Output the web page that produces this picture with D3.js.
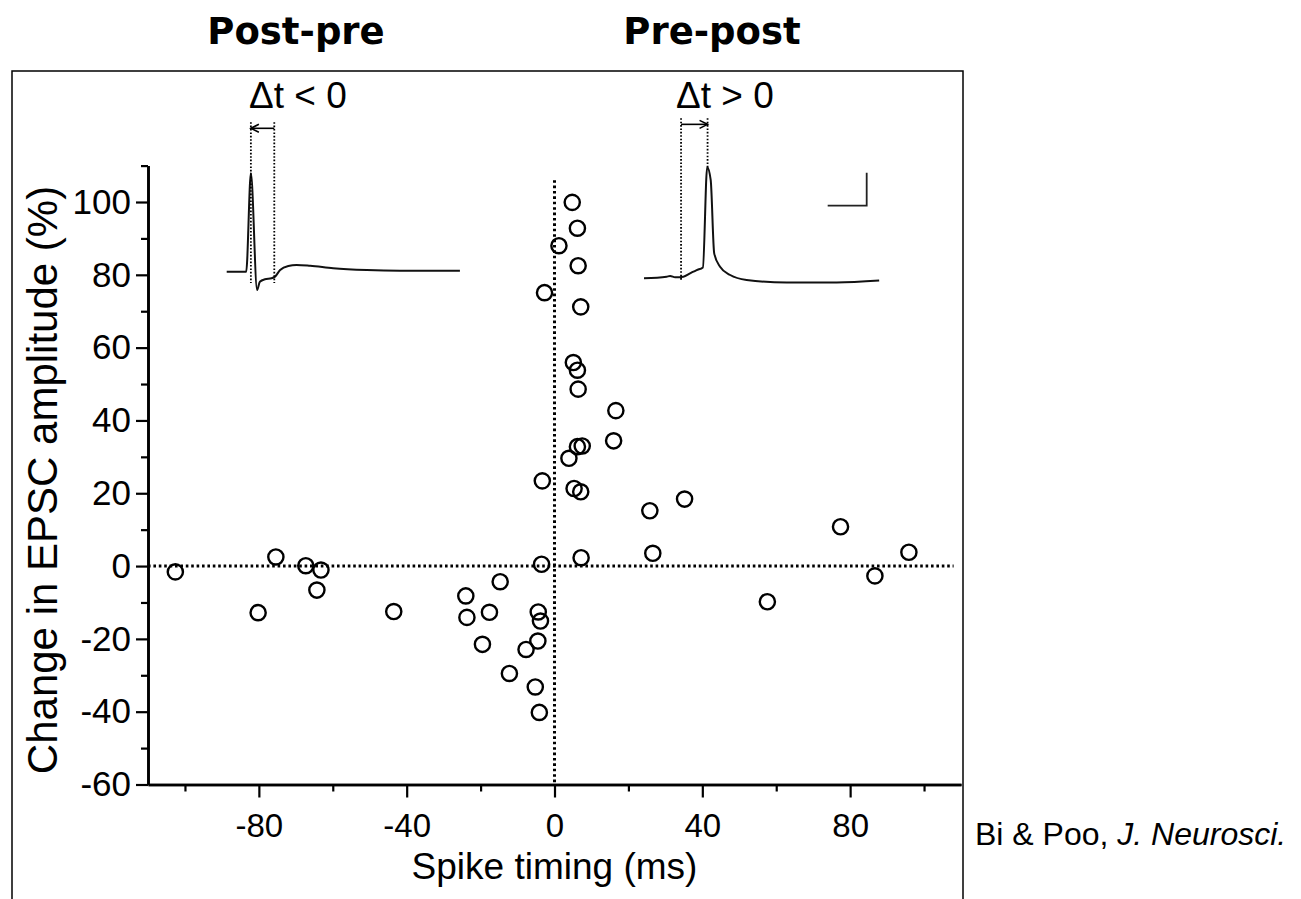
<!DOCTYPE html>
<html>
<head>
<meta charset="utf-8">
<script src="https://cdn.jsdelivr.net/npm/d3@7"></script>
<style>
  body { margin: 0; background: #fff; }
  svg { display: block; }
  text { font-family: "Liberation Sans", Arial, Helvetica, sans-serif; fill: #000; }
</style>
</head>
<body>
<svg id="chart" width="1301" height="899"></svg>
<script>
// scatter: spike timing (ms) vs change in EPSC amplitude (%)
const spikeTiming = [
    4.8, 6.2, 1.2, 6.4, -2.7, 7.1, 5.1, 6.2, 6.4, 6.2, 7.5, 3.9, -3.3, 5.3, 7.1, 7.2,
    16.6, 16.0, 25.8, 35.2, 26.6, 77.4, 95.9, 86.7, 57.6,
    -3.5, -14.7, -24.0, -23.7, -17.6, -4.4, -3.8, -19.5, -4.5, -7.7, -12.2, -5.2, -4.1,
    -102.6, -75.4, -67.3, -63.2, -64.3, -80.2, -43.5
];
const epscChange = [
    99.9, 92.8, 88.0, 82.5, 75.1, 71.2, 55.9, 53.8, 48.6, 32.8, 33.0, 29.6, 23.4, 21.3, 20.4, 2.3,
    42.7, 34.4, 15.2, 18.4, 3.5, 10.8, 3.8, -2.7, -9.8,
    0.5, -4.3, -8.2, -14.1, -12.7, -12.6, -15.1, -21.5, -20.6, -22.9, -29.5, -33.2, -40.2,
    -1.6, 2.5, 0.1, -1.1, -6.6, -12.8, -12.5
];

const xMajorTicks = [-80, -40, 0, 40, 80];
const xMinorTicks = [-100, -60, -20, 20, 60, 100];
const yMajorTicks = [-60, -40, -20, 0, 20, 40, 60, 80, 100];
const yMinorTicks = [-50, -30, -10, 10, 30, 50, 70, 90, 110];

// inset traces: time (ms) / voltage (mV) relative to trace start and baseline
const postPreT = [0, 5.0, 6.2, 7.8, 8.5, 9.8, 11.5, 12.4, 13.7, 15.8, 17.9, 21.4, 27.3, 35.9, 44.4, 59.8];
const postPreV = [0, 0, 59.6, -11.1, -6.1, -4.6, -4.0, -3.0, 1.0, 3.5, 4.1, 3.6, 2.1, 1.0, 0.6, 0.6];
const prePostT = [0, 5.8, 6.7, 8.0, 10.1, 11.8, 13.5, 15.1, 16.2, 17.1, 18.0, 19.5, 22.1, 26.3, 36.6, 49.4, 60.3];
const prePostV = [0, 1.0, 1.4, 0.6, 1.0, 3.0, 5.0, 6.6, 67.3, 59.6, 15.1, 7.0, 2.0, -1.0, -2.6, -2.6, -1.4];

const svg = d3.select('#chart');

// frame and headings
svg.append('rect')
    .attr('x', 12).attr('y', 71).attr('width', 951).attr('height', 900)
    .attr('fill', 'none').attr('stroke', '#000').attr('stroke-width', 1.5);

svg.selectAll('.head')
    .data([['Post-pre', 296], ['Pre-post', 712]])
    .join('text')
    .attr('class', 'head')
    .attr('x', d => d[1]).attr('y', 44)
    .attr('text-anchor', 'middle')
    .attr('font-size', 37)
    .attr('font-weight', 'bold')
    .style('font-family', '"DejaVu Sans", sans-serif')
    .text(d => d[0]);

const x = d3.scaleLinear().domain([-110, 110]).range([148, 961]);
const y = d3.scaleLinear().domain([-60, 110]).range([784.5, 165.6]);
const fmt = d => String(d);   // plain hyphen, as in the original figure

const g = svg.append('g');

// axes: minor ticks first, then labelled major ticks
g.append('g').attr('transform', `translate(0,${y(-60)})`)
    .call(d3.axisBottom(x).tickValues(xMinorTicks).tickSize(7).tickSizeOuter(0).tickFormat(''));
g.append('g').attr('class', 'xax').attr('transform', `translate(0,${y(-60)})`)
    .call(d3.axisBottom(x).tickValues(xMajorTicks).tickSize(13).tickSizeOuter(0).tickPadding(16).tickFormat(fmt));
g.append('g').attr('transform', `translate(${x(-110)},0)`)
    .call(d3.axisLeft(y).tickValues(yMinorTicks).tickSize(7).tickSizeOuter(0).tickFormat(''));
g.append('g').attr('class', 'yax').attr('transform', `translate(${x(-110)},0)`)
    .call(d3.axisLeft(y).tickValues(yMajorTicks).tickSize(12).tickSizeOuter(0).tickPadding(5).tickFormat(fmt));

g.selectAll('.domain').attr('stroke', '#000').attr('stroke-width', 2.6);
g.selectAll('.tick line').attr('stroke', '#000').attr('stroke-width', 2.2);
g.selectAll('.tick text').attr('fill', '#000').attr('font-family', null);
g.selectAll('.xax text').attr('font-size', 33);
g.selectAll('.yax text').attr('font-size', 35);

// dotted zero lines
g.append('line')
    .attr('x1', x(-110)).attr('x2', x(108)).attr('y1', y(0)).attr('y2', y(0))
    .attr('stroke', '#000').attr('stroke-width', 3).attr('stroke-dasharray', '2.6,2.8');
g.append('line')
    .attr('x1', x(0)).attr('x2', x(0)).attr('y1', y(106)).attr('y2', y(-60))
    .attr('stroke', '#000').attr('stroke-width', 3).attr('stroke-dasharray', '2.6,2.8');

// points
g.selectAll('.pt')
    .data(spikeTiming.map((t, i) => ({ t, v: epscChange[i] })))
    .join('circle')
    .attr('class', 'pt')
    .attr('cx', d => x(d.t))
    .attr('cy', d => y(d.v))
    .attr('r', 7.6)
    .attr('fill', 'none')
    .attr('stroke', '#000')
    .attr('stroke-width', 2.4);

// axis titles
svg.append('text')
    .attr('transform', 'translate(57,480) rotate(-90)')
    .attr('text-anchor', 'middle')
    .attr('font-size', 42)
    .text('Change in EPSC amplitude (%)');
svg.append('text')
    .attr('x', x(0)).attr('y', 879)
    .attr('text-anchor', 'middle')
    .attr('font-size', 37)
    .text('Spike timing (ms)');

const cite = svg.append('text').attr('x', 975).attr('y', 845).attr('font-size', 32);
cite.append('tspan').text('Bi & Poo, ');
cite.append('tspan').attr('font-style', 'italic').text('J. Neurosci.');

// insets
function drawInset(tArr, vArr, x0, base, marks, arrowV, label, labelX) {
    const it = d3.scaleLinear().domain([0, 10]).range([x0, x0 + 39]);
    const iv = d3.scaleLinear().domain([0, 20]).range([base, base - 33]);
    const ig = svg.append('g');
    ig.append('path')
        .datum(tArr.map((t, i) => [t, vArr[i]]))
        .attr('d', d3.line().x(d => it(d[0])).y(d => iv(d[1])).curve(d3.curveMonotoneX))
        .attr('fill', 'none').attr('stroke', '#111').attr('stroke-width', 2);
    marks.forEach(m => {
        ig.append('line')
            .attr('x1', it(m.t)).attr('x2', it(m.t)).attr('y1', iv(m.top)).attr('y2', iv(m.bottom))
            .attr('stroke', '#000').attr('stroke-width', 1.8).attr('stroke-dasharray', '1.6,1.8');
    });
    const from = it(arrowV.from), to = it(arrowV.to), ay = iv(arrowV.v);
    const dir = to > from ? 1 : -1;
    ig.append('line').attr('x1', from).attr('x2', to).attr('y1', ay).attr('y2', ay)
        .attr('stroke', '#000').attr('stroke-width', 1.6);
    ig.append('path')
        .attr('d', `M${to - dir * 8},${ay - 4}L${to},${ay}L${to - dir * 8},${ay + 4}`)
        .attr('fill', 'none').attr('stroke', '#000').attr('stroke-width', 1.6);
    ig.append('text').attr('x', labelX).attr('y', 108).attr('font-size', 37).text(label);
    return { it, iv, ig };
}

drawInset(postPreT, postPreV, 226.7, 271.7,
    [{ t: 6.2, top: 90.6, bottom: -6.9 }, { t: 12.2, top: 90.6, bottom: -6.9 }],
    { from: 12.2, to: 6.2, v: 86.9 }, 'Δt < 0', 249);

const right = drawInset(prePostT, prePostV, 644, 278.3,
    [{ t: 9.5, top: 97, bottom: -2 }, { t: 16.3, top: 97, bottom: 67.3 }],
    { from: 9.5, to: 16.3, v: 93.3 }, 'Δt > 0', 676);

// scale bar: 10 ms, 20 mV
right.ig.append('path')
    .attr('d', `M${right.it(47.1)},${right.iv(44)}H${right.it(57.1)}V${right.iv(64)}`)
    .attr('fill', 'none').attr('stroke', '#222').attr('stroke-width', 1.8);
</script>
</body>
</html>
